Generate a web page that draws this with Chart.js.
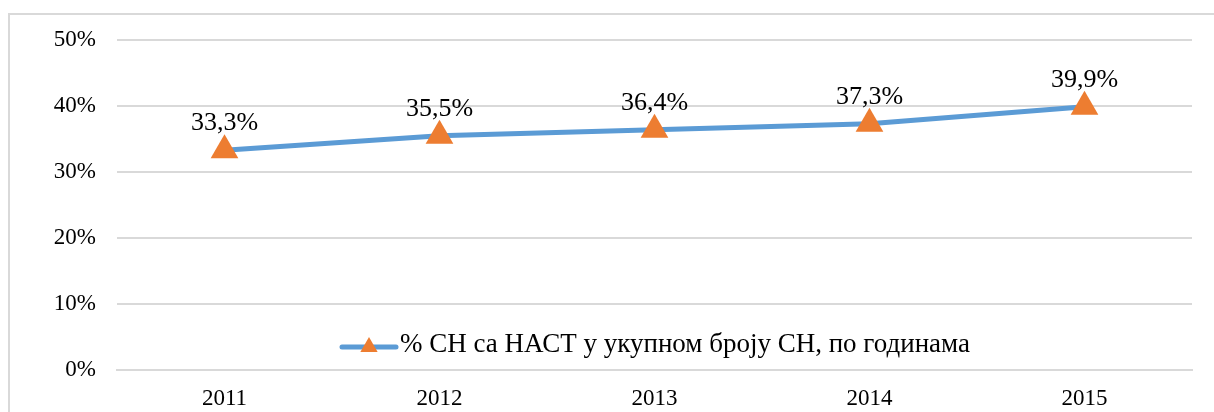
<!DOCTYPE html>
<html>
<head>
<meta charset="utf-8">
<script src="https://cdn.jsdelivr.net/npm/chart.js@4.4.1/dist/chart.umd.min.js"></script>
<style>
  html, body { margin: 0; padding: 0; background: #fff; }
  #frame { position: absolute; left: 8px; top: 13px; width: 1220px; height: 420px; border-left: 2px solid #d9d9d9; border-top: 2px solid #d9d9d9; box-sizing: border-box; }
  #wrap { position: absolute; left: 0; top: 0; width: 1214px; height: 412px; }
</style>
</head>
<body>
<div id="frame"></div>
<div id="wrap"><canvas id="c" width="1214" height="412"></canvas></div>
<script>
const categories = ['2011', '2012', '2013', '2014', '2015'];
const seriesName = '% СН са НАСТ у укупном броју СН, по годинама';
const values = [33.3, 35.5, 36.4, 37.3, 39.9];
const yTicks = [0, 10, 20, 30, 40, 50];

const FONT = 'Liberation Serif';
const LINE = '#5b9bd5';
const MARK = '#ed7d31';

Chart.defaults.font.family = FONT;

const labelPlugin = {
  id: 'labels',
  afterDatasetsDraw(chart) {
    const ctx = chart.ctx;
    const meta = chart.getDatasetMeta(0);
    ctx.save();
    ctx.font = '26px "Liberation Serif"';
    ctx.fillStyle = '#000';
    ctx.textAlign = 'center';
    ctx.textBaseline = 'alphabetic';
    meta.data.forEach((pt, i) => {
      ctx.fillText(values[i].toFixed(1).replace('.', ',') + '%', pt.x, pt.y - 20);
    });
    ctx.restore();
  }
};

const legendPlugin = {
  id: 'inlegend',
  afterDraw(chart) {
    const ctx = chart.ctx;
    const a = chart.chartArea;
    ctx.save();
    ctx.font = '27px "Liberation Serif"';
    const x0 = a.left + 223;
    const y = a.bottom - 23;
    const lineW = 58;
    ctx.strokeStyle = LINE;
    ctx.lineWidth = 5;
    ctx.lineCap = 'round';
    ctx.beginPath();
    ctx.moveTo(x0 + 2, y);
    ctx.lineTo(x0 + lineW - 2, y);
    ctx.stroke();
    ctx.fillStyle = MARK;
    const tx = x0 + lineW / 2, r = 10;
    ctx.beginPath();
    ctx.moveTo(tx, y - r);
    ctx.lineTo(tx + r * 0.866, y + r * 0.5);
    ctx.lineTo(tx - r * 0.866, y + r * 0.5);
    ctx.closePath();
    ctx.fill();
    ctx.fillStyle = '#000';
    ctx.textAlign = 'left';
    ctx.textBaseline = 'alphabetic';
    ctx.fillText(seriesName, x0 + lineW + 2, y + 5);
    ctx.restore();
  }
};

new Chart(document.getElementById('c'), {
  type: 'line',
  data: {
    labels: categories,
    datasets: [{
      label: seriesName,
      data: values,
      borderColor: LINE,
      borderWidth: 5,
      pointStyle: 'triangle',
      pointRadius: 16,
      pointHoverRadius: 16,
      pointBackgroundColor: MARK,
      pointBorderColor: MARK,
      pointBorderWidth: 0,
      tension: 0
    }]
  },
  options: {
    responsive: false,
    animation: false,
    layout: { padding: { left: 0, right: 22, top: 40, bottom: 0 } },
    plugins: {
      legend: { display: false },
      tooltip: { enabled: false }
    },
    scales: {
      x: {
        offset: true,
        grid: { display: false, drawTicks: false },
        border: { display: true, color: '#d9d9d9', width: 2 },
        ticks: { color: '#000', font: { size: 23 }, padding: 15 },
        afterFit(s) { s.height = 42; }
      },
      y: {
        min: 0, max: 50,
        afterBuildTicks(s) { s.ticks = yTicks.map(v => ({ value: v })); },
        grid: { color: '#d9d9d9', lineWidth: 2, drawTicks: false },
        border: { display: false },
        ticks: { color: '#000', font: { size: 23 }, padding: 21, callback: v => v + '%' },
        afterFit(s) { s.width = 117; }
      }
    }
  },
  plugins: [labelPlugin, legendPlugin]
});
</script>
</body>
</html>
